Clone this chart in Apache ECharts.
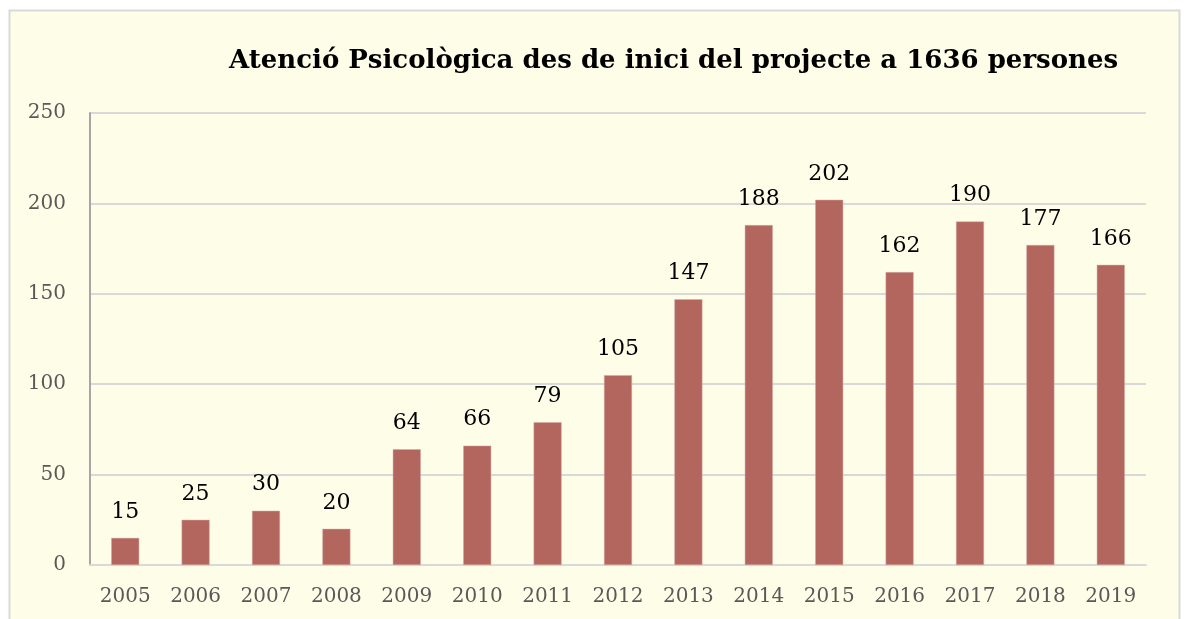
<!DOCTYPE html>
<html>
<head>
<meta charset="utf-8">
<script src="https://cdn.jsdelivr.net/npm/echarts@6/dist/echarts.min.js"></script>
<style>
  html, body { margin: 0; padding: 0; background: #ffffff; }
  #chart-main { width: 1184px; height: 619px; }
</style>
</head>
<body>
<div id="chart-main"></div>
<script>
// data
const years = ['2005', '2006', '2007', '2008', '2009', '2010', '2011', '2012', '2013', '2014', '2015', '2016', '2017', '2018', '2019'];
const persones = [15, 25, 30, 20, 64, 66, 79, 105, 147, 188, 202, 162, 190, 177, 166];
const titleText = 'Atenció Psicològica des de inici del projecte a 1636 persones';

const chartDom = document.getElementById('chart-main');
const myChart = echarts.init(chartDom);

const serif = '"DejaVu Serif", "Liberation Serif", serif';

const option = {
    backgroundColor: '#ffffff',
    animation: false,
    graphic: [{
        type: 'rect',
        z: -10,
        shape: { x: 9.5, y: 10.5, width: 1170, height: 700 },
        style: { fill: '#fefee8', stroke: '#d9d9d9', lineWidth: 2 }
    }],
    title: {
        text: titleText,
        left: 224,
        top: 43,
        textStyle: { fontFamily: serif, fontWeight: 'bold', fontSize: 26, color: '#000000' }
    },
    grid: { left: 90, right: 38, top: 113, bottom: 54, containLabel: false },
    xAxis: {
        type: 'category',
        data: years,
        axisLine: { show: true, lineStyle: { color: '#d9d9d9', width: 2 } },
        axisTick: { show: false },
        axisLabel: { fontFamily: serif, fontSize: 20, color: '#595959', margin: 22 }
    },
    yAxis: {
        type: 'value',
        min: 0,
        max: 250,
        interval: 50,
        axisLine: { show: true, lineStyle: { color: '#a6a6a6', width: 2 } },
        axisTick: { show: false },
        splitLine: { lineStyle: { color: '#d9d9d9', width: 2 } },
        axisLabel: { fontFamily: serif, fontSize: 20, color: '#595959', margin: 24 }
    },
    series: [{
        type: 'bar',
        data: persones,
        barWidth: 28,
        itemStyle: { color: '#b3665e', borderColor: '#d6a9a4', borderWidth: 0.5 },
        label: {
            show: true,
            position: 'top',
            distance: 15,
            fontFamily: serif,
            fontSize: 22,
            color: '#000000'
        }
    }]
};

myChart.setOption(option);
</script>
</body>
</html>
